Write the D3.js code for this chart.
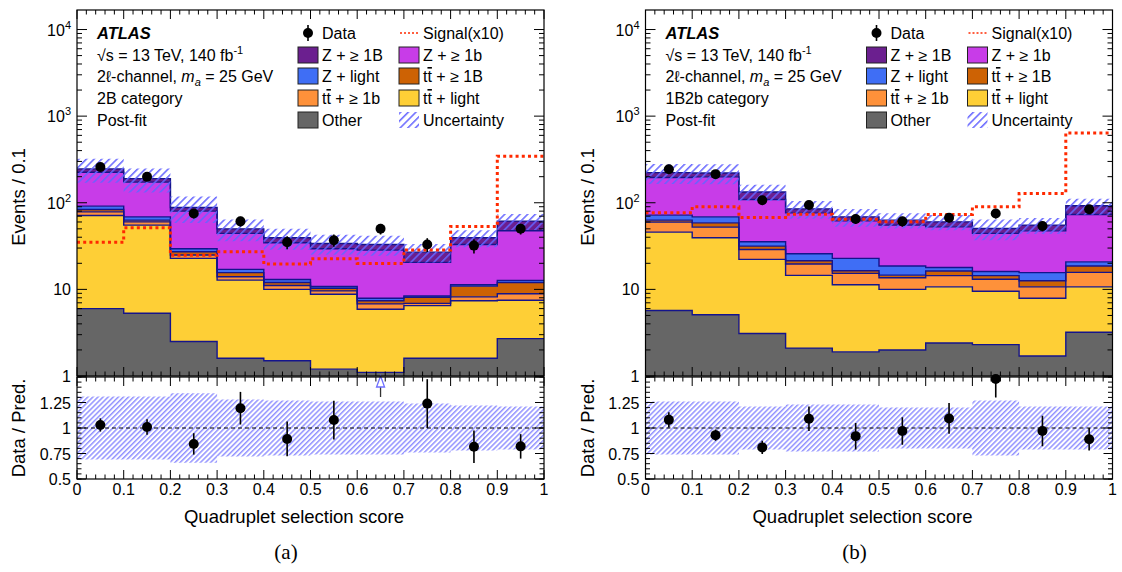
<!DOCTYPE html>
<html>
<head>
<meta charset="utf-8">
<script src="https://cdn.jsdelivr.net/npm/d3@7"></script>
<style>
body { margin: 0; background: #fff; }
text { font-family: "Liberation Sans", Arial, sans-serif; fill: #000; }
</style>
</head>
<body>
<script>
// bin edges and tick labels
var edges = [0, 0.1, 0.2, 0.3, 0.4, 0.5, 0.6, 0.7, 0.8, 0.9, 1.0];
var xTickLabels = ["0", "0.1", "0.2", "0.3", "0.4", "0.5", "0.6", "0.7", "0.8", "0.9", "1"];
var logTicks = [1, 10, 100, 1000, 10000];
var ratioTicks = [0.5, 0.75, 1, 1.25];

// stack order, bottom to top
var keys = ["other", "ttLight", "tt1b", "tt1B", "zLight", "z1b", "z1B"];

// ---- panel (a): 2B category ----
var otherA   = [6.0, 5.3, 2.5, 1.6, 1.5, 1.2, 1.1, 1.6, 1.6, 2.7];
var ttLightA = [65.3, 49.9, 20.3, 11.2, 8.5, 7.6, 4.8, 4.9, 5.8, 4.8];
var tt1bA    = [7.2, 5.0, 2.1, 1.2, 1.1, 0.8, 0.9, 0.4, 0.8, 1.4];
var tt1BA    = [5.1, 2.8, 2.3, 1.6, 0.9, 0.7, 0.6, 1.2, 2.7, 3.1];
var zLightA  = [7.8, 5.7, 2.2, 1.4, 1.0, 0.5, 0.5, 0.3, 0.4, 0.7];
var z1bA     = [133.6, 104.3, 50.6, 27.3, 21.5, 18.6, 20.5, 12.1, 21.7, 34.8];
var z1BA     = [21, 17, 8.3, 5.7, 4.9, 4.5, 4.6, 6.4, 6.4, 13.9];
var signalA  = [34.9, 51.4, 24.7, 27.2, 19.6, 22.5, 19.9, 28.4, 53.3, 345];
var dataA    = [259, 199, 75, 61, 35, 37, 50, 33, 32, 50];
var dataErrA = [16, 14, 9, 8, 6, 6, 7, 6, 6, 7];
var ratioA   = [1.03, 1.01, 0.844, 1.194, 0.893, 1.078, 1.53, 1.239, 0.816, 0.82];
var ratioErrA = [0.065, 0.075, 0.105, 0.16, 0.17, 0.19, 0.2, 0.24, 0.16, 0.12];
var uncA     = [0.31, 0.31, 0.34, 0.28, 0.27, 0.26, 0.26, 0.24, 0.22, 0.21];

// ---- panel (b): 1B2b category ----
var otherB   = [5.7, 5.1, 3.1, 2.1, 1.9, 2.0, 2.4, 2.3, 1.7, 3.2];
var ttLightB = [40.1, 34.3, 19.1, 12.4, 9.4, 8.0, 8.3, 7.2, 6.2, 7.5];
var tt1bB    = [13.9, 12.9, 6.7, 5.1, 4.0, 3.6, 3.7, 3.6, 2.8, 5.0];
var tt1BB    = [3.3, 6.3, 2.7, 1.8, 1.1, 1.0, 1.9, 1.3, 1.9, 2.9];
var zLightB  = [8.9, 10.2, 3.8, 4.4, 6.4, 4.0, 1.6, 1.7, 3.0, 2.2];
var z1bB     = [124.1, 130.2, 73.6, 50.7, 39.0, 36.6, 34.8, 28.2, 31.8, 52.5];
var z1BB     = [27, 22, 24, 8.6, 7.0, 7.8, 7.5, 6.2, 7.8, 18.9];
var signalB  = [76.5, 89.7, 67.7, 73.9, 64.7, 60.2, 73.3, 89.7, 128, 640];
var dataB    = [244, 214, 107, 94, 65, 61, 67, 75, 54, 84];
var dataErrB = [16, 15, 10, 10, 8, 8, 8, 9, 7, 9];
var ratioB   = [1.08, 0.93, 0.81, 1.09, 0.92, 0.97, 1.094, 1.48, 0.97, 0.89];
var ratioErrB = [0.075, 0.055, 0.065, 0.12, 0.13, 0.135, 0.15, 0.18, 0.15, 0.11];
var uncB     = [0.26, 0.26, 0.21, 0.23, 0.23, 0.20, 0.20, 0.27, 0.21, 0.21];

var fills = {
    other: "#666666", ttLight: "#fecf36", tt1b: "#fe913a", tt1B: "#cd6204",
    zLight: "#3f6ef5", z1b: "#c83ce8", z1B: "#6b1f8f"
};
var outline = "#14148c";

var panels = [
    { id: "a", x0: 77, category: "2B category", caption: "(a)",
      series: [otherA, ttLightA, tt1bA, tt1BA, zLightA, z1bA, z1BA],
      signal: signalA, data: dataA, dataErr: dataErrA, ratio: ratioA, ratioErr: ratioErrA, unc: uncA },
    { id: "b", x0: 645.5, category: "1B2b category", caption: "(b)",
      series: [otherB, ttLightB, tt1bB, tt1BB, zLightB, z1bB, z1BB],
      signal: signalB, data: dataB, dataErr: dataErrB, ratio: ratioB, ratioErr: ratioErrB, unc: uncB }
];

var W = 1122, H = 572;
var pw = 467;            // plot width
var mainTop = 10, mainBot = 376, ratTop = 377, ratBot = 479;

var svg = d3.select("body").append("svg").attr("width", W).attr("height", H);
var defs = svg.append("defs");

// hatch patterns (main panel and denser ratio panel)
function hatch(id, size, color, width) {
    var p = defs.append("pattern").attr("id", id)
        .attr("patternUnits", "userSpaceOnUse")
        .attr("width", size).attr("height", size)
        .attr("patternTransform", "rotate(45)");
    p.append("line").attr("x1", 0.8).attr("y1", 0).attr("x2", 0.8).attr("y2", size)
        .attr("stroke", color).attr("stroke-width", width);
}
hatch("hatchMain", 5.4, "#6464ff", 1.5);
hatch("hatchRatio", 3.6, "#5a5aff", 1.0);

panels.forEach(drawPanel);

function drawPanel(p) {
    var x = d3.scaleLinear().domain([0, 1]).range([p.x0, p.x0 + pw]);
    var y = d3.scaleLog().domain([1, 1.68e4]).range([mainBot, mainTop]);
    var yr = d3.scaleLinear().domain([0.5, 1.5]).range([ratBot, ratTop]);

    defs.append("clipPath").attr("id", "clipMain" + p.id).append("rect")
        .attr("x", x(0)).attr("y", mainTop).attr("width", pw).attr("height", mainBot - mainTop);
    defs.append("clipPath").attr("id", "clipRat" + p.id).append("rect")
        .attr("x", x(0)).attr("y", ratTop).attr("width", pw).attr("height", ratBot - ratTop);

    // stack the backgrounds
    var rows = d3.range(10).map(function(i) {
        var r = {};
        keys.forEach(function(k, j) { r[k] = p.series[j][i]; });
        return r;
    });
    var layers = d3.stack().keys(keys)(rows);

    // step helper: one point per edge, last bin value repeated
    function steps(fLo, fHi) {
        return edges.map(function(e, i) {
            var b = Math.min(i, 9);
            return { x: e, lo: fLo(b), hi: fHi(b) };
        });
    }

    var main = svg.append("g").attr("clip-path", "url(#clipMain" + p.id + ")");

    var area = d3.area().curve(d3.curveStepAfter)
        .x(function(d) { return x(d.x); })
        .y0(function(d) { return y(Math.max(d.lo, 1)); })
        .y1(function(d) { return y(Math.max(d.hi, 1)); });
    var topLine = d3.line().curve(d3.curveStepAfter)
        .x(function(d) { return x(d.x); })
        .y(function(d) { return y(Math.max(d.hi, 1)); });

    layers.forEach(function(L) {
        main.append("path")
            .datum(steps(function(b) { return L[b][0]; }, function(b) { return L[b][1]; }))
            .attr("d", area)
            .attr("fill", fills[L.key]);
    });
    layers.forEach(function(L) {
        main.append("path")
            .datum(steps(function(b) { return L[b][0]; }, function(b) { return L[b][1]; }))
            .attr("d", topLine)
            .attr("fill", "none")
            .attr("stroke", outline)
            .attr("stroke-width", 1.4);
    });

    // uncertainty band on the total
    var total = rows.map(function(r) { return d3.sum(keys, function(k) { return r[k]; }); });
    main.append("path")
        .datum(steps(function(b) { return total[b] * (1 - p.unc[b]); },
                     function(b) { return total[b] * (1 + p.unc[b]); }))
        .attr("d", area)
        .attr("fill", "url(#hatchMain)");

    // signal (x10)
    main.append("path")
        .datum(steps(function() { return 1; }, function(b) { return p.signal[b]; }))
        .attr("d", topLine)
        .attr("fill", "none")
        .attr("stroke", "#ff2a00")
        .attr("stroke-width", 3)
        .attr("stroke-dasharray", "3,3.2");

    // data points
    var centers = d3.range(10).map(function(i) { return (edges[i] + edges[i + 1]) / 2; });
    main.selectAll(".err").data(centers).enter().append("line")
        .attr("x1", function(c) { return x(c); }).attr("x2", function(c) { return x(c); })
        .attr("y1", function(c, i) { return y(p.data[i] - p.dataErr[i]); })
        .attr("y2", function(c, i) { return y(p.data[i] + p.dataErr[i]); })
        .attr("stroke", "#000").attr("stroke-width", 1.6);
    main.selectAll(".pt").data(centers).enter().append("circle")
        .attr("cx", function(c) { return x(c); })
        .attr("cy", function(c, i) { return y(p.data[i]); })
        .attr("r", 5).attr("fill", "#000");

    // ---- ratio panel ----
    var rat = svg.append("g").attr("clip-path", "url(#clipRat" + p.id + ")");
    var rArea = d3.area().curve(d3.curveStepAfter)
        .x(function(d) { return x(d.x); })
        .y0(function(d) { return yr(d.lo); })
        .y1(function(d) { return yr(d.hi); });
    rat.append("path")
        .datum(steps(function(b) { return 1 - p.unc[b]; }, function(b) { return 1 + p.unc[b]; }))
        .attr("d", rArea)
        .attr("fill", "url(#hatchRatio)");
    rat.append("line")
        .attr("x1", x(0)).attr("x2", x(1)).attr("y1", yr(1)).attr("y2", yr(1))
        .attr("stroke", "#000").attr("stroke-width", 1).attr("stroke-dasharray", "4,3");

    var inRange = d3.range(10).filter(function(i) { return p.ratio[i] <= 1.5; });
    var over = d3.range(10).filter(function(i) { return p.ratio[i] > 1.5; });
    rat.selectAll(".rerr").data(inRange).enter().append("line")
        .attr("x1", function(i) { return x(centers[i]); }).attr("x2", function(i) { return x(centers[i]); })
        .attr("y1", function(i) { return yr(p.ratio[i] - p.ratioErr[i]); })
        .attr("y2", function(i) { return yr(Math.min(p.ratio[i] + p.ratioErr[i], 1.5)); })
        .attr("stroke", "#000").attr("stroke-width", 1.6);
    svg.selectAll(".rpt" + p.id).data(inRange).enter().append("circle")
        .attr("cx", function(i) { return x(centers[i]); })
        .attr("cy", function(i) { return yr(Math.min(p.ratio[i], 1.49)); })
        .attr("r", 5).attr("fill", "#000");

    // arrow for points above the ratio range
    over.forEach(function(i) {
        var cx = x(centers[i]);
        svg.append("line").attr("x1", cx).attr("x2", cx)
            .attr("y1", yr(1.5) + 10).attr("y2", yr(1.5) + 20)
            .attr("stroke", "#333").attr("stroke-width", 1.3);
        svg.append("path")
            .attr("d", "M" + cx + "," + (yr(1.5) - 1) + " L" + (cx - 4) + "," + (yr(1.5) + 10) +
                  " L" + (cx + 4) + "," + (yr(1.5) + 10) + " Z")
            .attr("fill", "#fff").attr("stroke", "#6f6fff").attr("stroke-width", 1.3);
    });

    // ---- axes and frames ----
    var minorX = d3.range(0, 1.0001, 0.02).filter(function(v) {
        return Math.abs(v * 10 - Math.round(v * 10)) > 1e-6;
    });
    function xTicks(yPos, dir) {
        var g = svg.append("g");
        g.selectAll(".mj").data(edges).enter().append("line")
            .attr("x1", function(v) { return x(v); }).attr("x2", function(v) { return x(v); })
            .attr("y1", yPos).attr("y2", yPos + dir * 9)
            .attr("stroke", "#000");
        g.selectAll(".mn").data(minorX).enter().append("line")
            .attr("x1", function(v) { return x(v); }).attr("x2", function(v) { return x(v); })
            .attr("y1", yPos).attr("y2", yPos + dir * 4.5)
            .attr("stroke", "#000");
    }
    xTicks(mainTop, 1);
    xTicks(mainBot, -1);
    xTicks(ratTop, 1);
    xTicks(ratBot, -1);

    // log y ticks both sides
    var minorY = [];
    [1, 10, 100, 1000, 10000].forEach(function(dec) {
        for (var m = 2; m <= 9; m++) if (dec * m < 1.68e4) minorY.push(dec * m);
    });
    [[x(0), 1], [x(1), -1]].forEach(function(side) {
        var g = svg.append("g");
        g.selectAll(".mj").data(logTicks).enter().append("line")
            .attr("x1", side[0]).attr("x2", side[0] + side[1] * 10)
            .attr("y1", function(v) { return y(v); }).attr("y2", function(v) { return y(v); })
            .attr("stroke", "#000");
        g.selectAll(".mn").data(minorY).enter().append("line")
            .attr("x1", side[0]).attr("x2", side[0] + side[1] * 5)
            .attr("y1", function(v) { return y(v); }).attr("y2", function(v) { return y(v); })
            .attr("stroke", "#000");
        var rMinor = d3.range(0.5, 1.5001, 0.05);
        g.selectAll(".rmj").data(ratioTicks.concat([1.5])).enter().append("line")
            .attr("x1", side[0]).attr("x2", side[0] + side[1] * 9)
            .attr("y1", function(v) { return yr(v); }).attr("y2", function(v) { return yr(v); })
            .attr("stroke", "#000");
        g.selectAll(".rmn").data(rMinor).enter().append("line")
            .attr("x1", side[0]).attr("x2", side[0] + side[1] * 4.5)
            .attr("y1", function(v) { return yr(v); }).attr("y2", function(v) { return yr(v); })
            .attr("stroke", "#000");
    });

    svg.append("rect").attr("x", x(0)).attr("y", mainTop).attr("width", pw).attr("height", mainBot - mainTop)
        .attr("fill", "none").attr("stroke", "#000").attr("stroke-width", 1.2);
    svg.append("rect").attr("x", x(0)).attr("y", ratTop).attr("width", pw).attr("height", ratBot - ratTop)
        .attr("fill", "none").attr("stroke", "#000").attr("stroke-width", 1.2);

    // tick labels
    logTicks.forEach(function(v) {
        var t = svg.append("text").attr("x", x(0) - 6).attr("y", y(v) + 6)
            .attr("text-anchor", "end").attr("font-size", 16);
        if (v < 100) t.text(String(v));
        else {
            t.append("tspan").text("10");
            t.append("tspan").attr("dy", -7).attr("font-size", 11).text(String(Math.round(Math.log10(v))));
        }
    });
    ratioTicks.forEach(function(v) {
        svg.append("text").attr("x", x(0) - 6).attr("y", yr(v) + 6)
            .attr("text-anchor", "end").attr("font-size", 16).text(String(v));
    });
    edges.forEach(function(v, i) {
        svg.append("text").attr("x", x(v)).attr("y", ratBot + 16)
            .attr("text-anchor", "middle").attr("font-size", 16).text(xTickLabels[i]);
    });

    // axis titles
    svg.append("text").attr("transform", "translate(" + (x(0) - 52) + "," + ((mainTop + mainBot) / 2 + 4) + ") rotate(-90)")
        .attr("text-anchor", "middle").attr("font-size", 18.5).text("Events / 0.1");
    svg.append("text").attr("transform", "translate(" + (x(0) - 52) + "," + ((ratTop + ratBot) / 2) + ") rotate(-90)")
        .attr("text-anchor", "middle").attr("font-size", 18.5).text("Data / Pred.");
    svg.append("text").attr("x", x(0) + 217).attr("y", 523)
        .attr("text-anchor", "middle").attr("font-size", 18.5).text("Quadruplet selection score");
    svg.append("text").attr("x", x(0) + 209).attr("y", 559)
        .attr("text-anchor", "middle").attr("font-size", 21)
        .style("font-family", "'Liberation Serif', 'Times New Roman', serif").text(p.caption);

    // ---- labels and legend ----
    var rowsY = [39, 61, 82, 104, 126];
    var tx = x(0) + 20;
    svg.append("text").attr("x", tx).attr("y", rowsY[0]).attr("font-size", 16.5)
        .attr("font-weight", "bold").attr("font-style", "italic").text("ATLAS");
    var s = svg.append("text").attr("x", tx).attr("y", rowsY[1]).attr("font-size", 16);
    s.append("tspan").text("\u221As = 13 TeV, 140 fb");
    s.append("tspan").attr("dy", -7).attr("font-size", 11).text("-1");
    var c = svg.append("text").attr("x", tx).attr("y", rowsY[2]).attr("font-size", 16);
    c.append("tspan").text("2\u2113-channel, ");
    c.append("tspan").attr("font-style", "italic").text("m");
    c.append("tspan").attr("font-style", "italic").attr("font-size", 11).attr("dy", 4).text("a");
    c.append("tspan").attr("dy", -4).text(" = 25 GeV");
    svg.append("text").attr("x", tx).attr("y", rowsY[3]).attr("font-size", 16).text(p.category);
    svg.append("text").attr("x", tx).attr("y", rowsY[4]).attr("font-size", 16).text("Post-fit");

    var legend = [
        { label: "Data", kind: "data" }, { label: "Signal(x10)", kind: "signal" },
        { label: "Z + \u2265 1B", kind: "z1B" }, { label: "Z + \u2265 1b", kind: "z1b" },
        { label: "Z + light", kind: "zLight" }, { tt: true, label: " + \u2265 1B", kind: "tt1B" },
        { tt: true, label: " + \u2265 1b", kind: "tt1b" }, { tt: true, label: " + light", kind: "ttLight" },
        { label: "Other", kind: "other" }, { label: "Uncertainty", kind: "unc" }
    ];
    legend.forEach(function(e, i) {
        var col = i % 2, row = Math.floor(i / 2);
        var bx = x(0) + (col === 0 ? 221 : 322);
        var cy = rowsY[row] - 6;
        if (e.kind === "data") {
            svg.append("line").attr("x1", bx + 10).attr("x2", bx + 10).attr("y1", cy - 8).attr("y2", cy + 8)
                .attr("stroke", "#000").attr("stroke-width", 1.6);
            svg.append("circle").attr("cx", bx + 10).attr("cy", cy).attr("r", 5).attr("fill", "#000");
        } else if (e.kind === "signal") {
            svg.append("line").attr("x1", bx + 1).attr("x2", bx + 21).attr("y1", cy).attr("y2", cy)
                .attr("stroke", "#ff2a00").attr("stroke-width", 1.5).attr("stroke-dasharray", "2,2");
        } else if (e.kind === "unc") {
            svg.append("rect").attr("x", bx).attr("y", cy - 8).attr("width", 20).attr("height", 16)
                .attr("fill", "url(#hatchMain)");
        } else {
            svg.append("rect").attr("x", bx).attr("y", cy - 8).attr("width", 20).attr("height", 16)
                .attr("fill", fills[e.kind]).attr("stroke", "#222").attr("stroke-width", 1);
        }
        var t = svg.append("text").attr("x", bx + 24).attr("y", rowsY[row]).attr("font-size", 16);
        if (e.tt) {
            t.append("tspan").text("t");
            t.append("tspan").style("text-decoration", "overline").text("t");
        }
        t.append("tspan").text(e.label);
    });
}
</script>
</body>
</html>
